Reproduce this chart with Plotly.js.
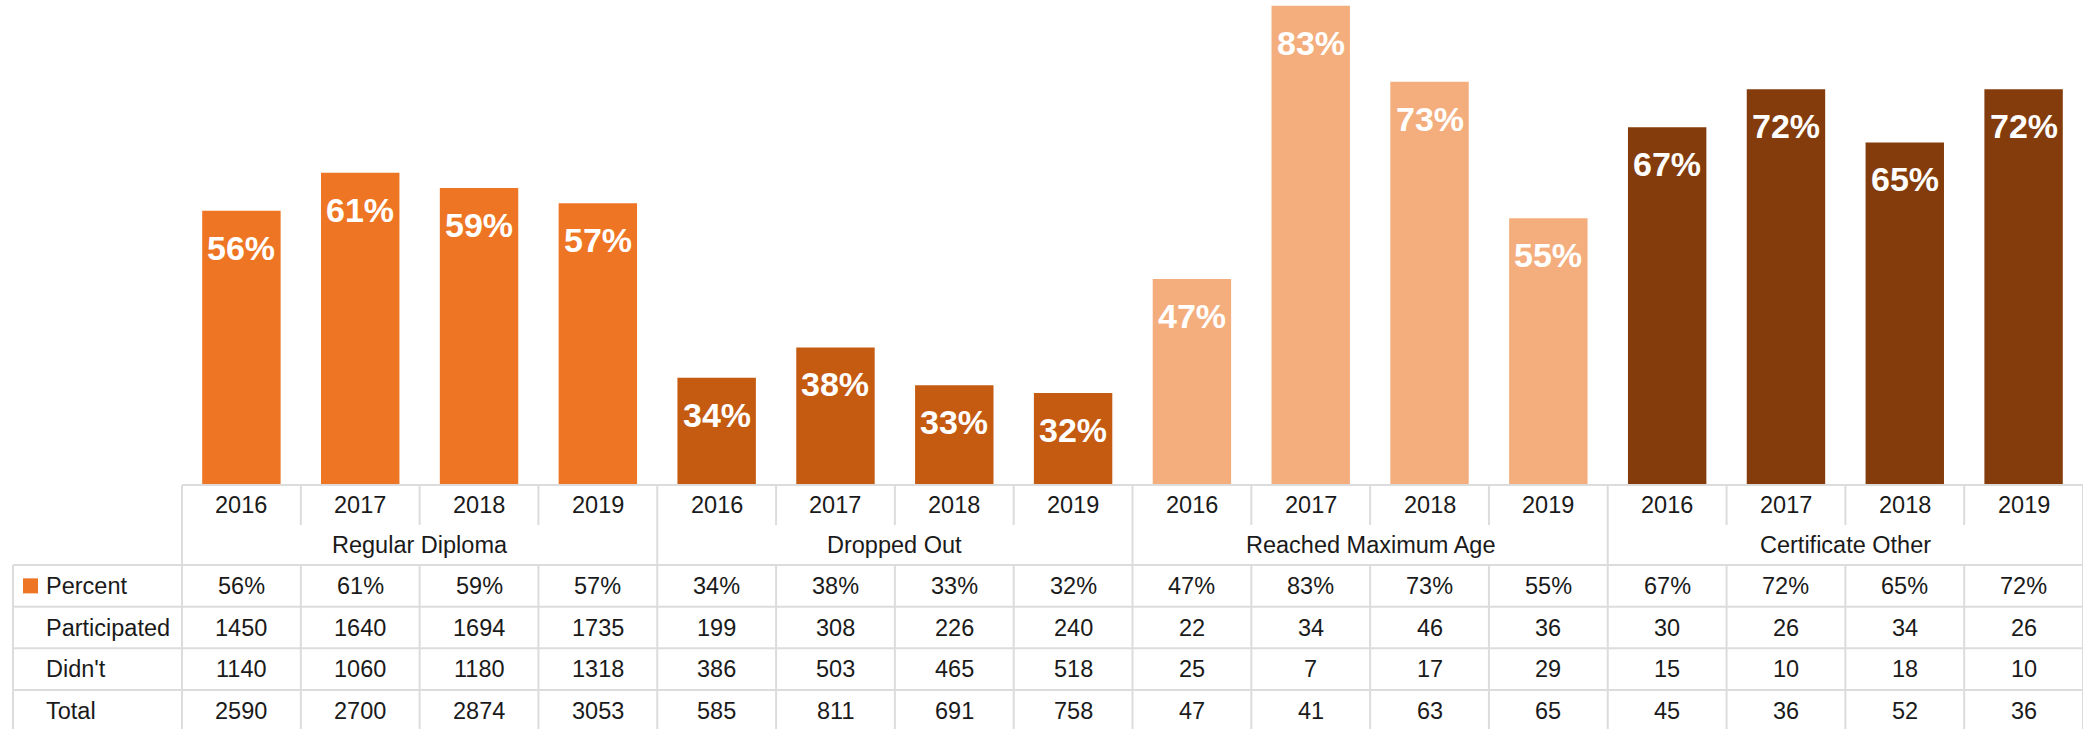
<!DOCTYPE html>
<html><head><meta charset="utf-8">
<script src="https://cdn.plot.ly/plotly-3.0.1.min.js"></script>
<style>html,body{margin:0;padding:0;background:#fff}#chart{width:2083px;height:729px}</style>
</head><body><div id="chart"></div>
<script>
// ---- data ----
const categories = ['Regular Diploma', 'Dropped Out', 'Reached Maximum Age', 'Certificate Other'];
const years = ['2016', '2017', '2018', '2019'];
const percent = [56, 61, 59, 57, 34, 38, 33, 32, 47, 83, 73, 55, 67, 72, 65, 72];
const participated = [1450, 1640, 1694, 1735, 199, 308, 226, 240, 22, 34, 46, 36, 30, 26, 34, 26];
const didnt = [1140, 1060, 1180, 1318, 386, 503, 465, 518, 25, 7, 17, 29, 15, 10, 18, 10];
const total = [2590, 2700, 2874, 3053, 585, 811, 691, 758, 47, 41, 63, 65, 45, 36, 52, 36];
const rowLabels = ['Percent', 'Participated', "Didn't", 'Total'];

// ---- style ----
const groupColors = ['#EE7523', '#C55A11', '#F4AE7E', '#843C0C'];
const W = 2083, H = 729;
const colW = 118.81, tableLeft = 182;
const xMin = -0.5 - tableLeft / colW;
const px2x = p => xMin + p / colW;
const barBase = 484, pxPerUnitY = 759;
const yMin = 0.2, yMax = yMin + barBase / pxPerUnitY;
const rowEdges = [485, 525, 565, 606.7, 648.3, 690, 731.7];
const rowCenter = r => (rowEdges[r] + rowEdges[r + 1]) / 2;
const gridColor = '#dcdcdc';
const textColor = '#1a1a1a';
const tableFont = {family: 'Liberation Sans, Arial, sans-serif', size: 23.5, color: textColor};
const categories_n = categories.length, perGroup = years.length;

const xs = percent.map((_, i) => i);
const barColors = xs.map(i => groupColors[Math.floor(i / perGroup)]);

const traces = [
  {type: 'bar', x: xs, y: percent.map(v => v / 100), width: 0.66,
   marker: {color: barColors, line: {width: 0}}, hoverinfo: 'skip', xaxis: 'x', yaxis: 'y'},
  {type: 'scatter', mode: 'markers', x: [0], y: [600], xaxis: 'x', yaxis: 'y2',
   marker: {opacity: 0}, hoverinfo: 'skip'}
];

const annotations = [];
// bar labels
xs.forEach(i => annotations.push({
  x: i, y: percent[i] / 100, xref: 'x', yref: 'y', text: percent[i] + '%', showarrow: false,
  yanchor: 'middle', yshift: -37,
  font: {family: 'Liberation Sans, Arial, sans-serif', size: 34, color: '#ffffff', weight: 'bold'}
}));
// year row
xs.forEach(i => annotations.push({
  x: i, y: rowCenter(0), xref: 'x', yref: 'y2', text: years[i % perGroup], showarrow: false, font: tableFont
}));
// category row
categories.forEach((c, g) => annotations.push({
  x: g * perGroup + (perGroup - 1) / 2, y: rowCenter(1), xref: 'x', yref: 'y2', text: c, showarrow: false, font: tableFont
}));
// data rows
const rows = [percent.map(v => v + '%'), participated, didnt, total];
rows.forEach((arr, r) => {
  arr.forEach((v, i) => annotations.push({
    x: i, y: rowCenter(2 + r), xref: 'x', yref: 'y2', text: String(v), showarrow: false, font: tableFont
  }));
  annotations.push({
    x: px2x(44), y: rowCenter(2 + r), xref: 'x', yref: 'y2', xanchor: 'left', text: rowLabels[r],
    showarrow: false, font: tableFont
  });
});

const shapes = [];
const line = {color: gridColor, width: 2};
const xRight = 15.5;
// horizontal lines
shapes.push({type: 'line', xref: 'x', yref: 'y2', x0: -0.5, x1: xRight, y0: rowEdges[0], y1: rowEdges[0], line});
for (let r = 2; r < rowEdges.length; r++) {
  shapes.push({type: 'line', xref: 'x', yref: 'y2', x0: px2x(13), x1: xRight, y0: rowEdges[r], y1: rowEdges[r], line});
}
// vertical lines
for (let k = 0; k <= xs.length; k++) {
  const x = -0.5 + k;
  if (k % perGroup === 0) {
    shapes.push({type: 'line', xref: 'x', yref: 'y2', x0: x, x1: x, y0: rowEdges[0], y1: rowEdges[6], line});
  } else {
    shapes.push({type: 'line', xref: 'x', yref: 'y2', x0: x, x1: x, y0: rowEdges[0], y1: rowEdges[1], line});
    shapes.push({type: 'line', xref: 'x', yref: 'y2', x0: x, x1: x, y0: rowEdges[2], y1: rowEdges[6], line});
  }
}
shapes.push({type: 'line', xref: 'x', yref: 'y2', x0: px2x(13), x1: px2x(13), y0: rowEdges[2], y1: rowEdges[6], line});
// legend key
const keyC = rowCenter(2);
shapes.push({type: 'rect', xref: 'x', yref: 'y2', x0: px2x(23), x1: px2x(38), y0: keyC - 7.5, y1: keyC + 7.5,
  fillcolor: groupColors[0], line: {width: 0}});

const layout = {
  width: W, height: H, margin: {l: 0, r: 0, t: 0, b: 0},
  paper_bgcolor: '#ffffff', plot_bgcolor: 'rgba(0,0,0,0)', showlegend: false,
  xaxis: {range: [xMin, xRight], visible: false, fixedrange: true},
  yaxis: {domain: [(H - barBase) / H, 1], range: [yMin, yMax], visible: false, fixedrange: true},
  yaxis2: {domain: [0, (H - 483) / H], range: [H, 483], visible: false, anchor: 'x', fixedrange: true},
  annotations, shapes
};

Plotly.newPlot('chart', traces, layout, {displayModeBar: false, staticPlot: true});
</script>
</body></html>
